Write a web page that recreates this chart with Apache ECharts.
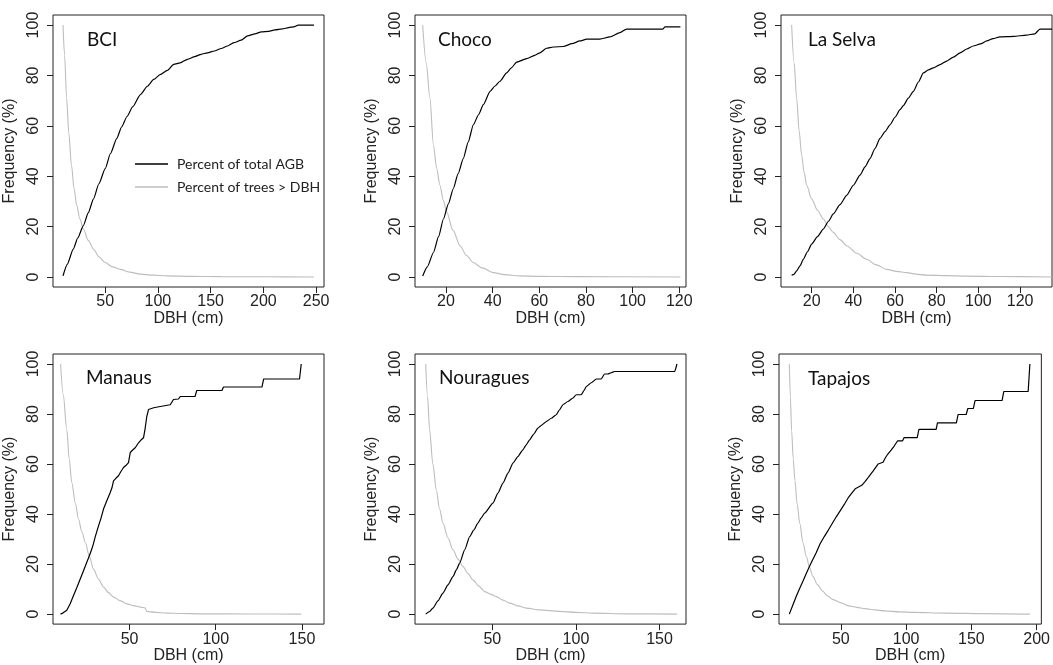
<!DOCTYPE html>
<html>
<head>
<meta charset="utf-8">
<script src="https://cdn.jsdelivr.net/npm/echarts@6/dist/echarts.min.js"></script>
<style>
  html, body { margin: 0; padding: 0; background: #fff; }
  #chart { width: 1053px; height: 665px; }
</style>
</head>
<body>
<div id="chart"></div>
<script>
// site names and tick labels
const sites = ['BCI', 'Choco', 'La Selva', 'Manaus', 'Nouragues', 'Tapajos'];
const yTicks = [0, 20, 40, 60, 80, 100];
const xTicks = [
  [50, 100, 150, 200, 250],
  [20, 40, 60, 80, 100, 120],
  [20, 40, 60, 80, 100, 120],
  [50, 100, 150],
  [50, 100, 150],
  [50, 100, 150, 200]
];

// [DBH, percent of total AGB] and [DBH, percent of trees > DBH]
const bciAgb = [[10,0.4],[14,5],[19.7,11],[24,15.5],[29.3,20.4],[34,25.5],[38.9,31],[44,37],[50,43],[55,49],[61,55],[65.5,59.5],[70.7,63.7],[76,67.5],[83.4,72.4],[90,75.7],[96,78.4],[102,80.3],[109,82],[115,84.4],[121,85],[128,86.4],[135,87.5],[141,88.4],[147,89],[153.5,89.7],[160,90.7],[166,91.7],[172,93],[179,94],[185,95.7],[192,96.5],[198,97.3],[205,97.5],[211,98.1],[218,98.5],[224,99],[229,99.3],[233,100],[248,100]];
const bciTrees = [[10,100],[11.5,88],[13.4,71],[15.5,57],[18,44.4],[20.5,35],[23,28.4],[26,23],[29.3,19],[34,14.5],[39,11],[44,8],[50,5.7],[57,4],[64.3,3],[73,1.9],[83.4,1.1],[95,0.7],[109,0.4],[130,0.2],[160,0.1],[200,0.05],[248,0]];

const chocoAgb = [[10,0.4],[12,4],[14.6,9.7],[16.8,16],[18.9,23],[21,29],[23.1,35],[25.2,41],[27.4,47],[29.5,53.5],[31.7,60.4],[34,64.5],[36,68.4],[38.9,73.7],[41,75.8],[43.1,77.7],[46,81],[48,83],[50.3,85.3],[54.6,86.7],[58,88],[60.3,89],[63.1,90.8],[66,91.3],[70.3,91.5],[74,92.6],[77.4,93.7],[80.3,94.4],[86,94.4],[90.3,95.3],[94.6,97],[97.4,98.4],[113,98.4],[113.9,99.3],[120.5,99.3]];
const chocoTrees = [[10,100],[11.5,85],[13.1,71],[14.6,52.4],[16,43],[17.4,36.4],[18.8,30.5],[20.3,25.7],[23,18.5],[26,12.4],[28.8,8.5],[31.7,5.7],[35.5,3.6],[40.3,1.7],[45,0.9],[51.7,0.4],[60,0.2],[75,0.1],[120.5,0]];

const laSelvaAgb = [[10.4,0.7],[11.5,1],[12.8,2.4],[14.5,4.5],[16,7],[18,10],[20,13],[22.8,16],[25.6,19],[28,22],[30.4,25],[33.6,28.7],[36.8,32.4],[40,36.4],[43.2,40.4],[45.6,43.7],[48,47],[50.4,51],[52.8,55],[55.2,57.7],[57.6,60.4],[60,63.4],[62.4,66.4],[64,68],[66.4,71],[68.8,73.7],[71.2,77.4],[73.6,81],[76,82.2],[78.4,83],[81.6,84.3],[84.8,85.7],[88,87.3],[91.2,89],[94.4,90.5],[97.5,91.7],[101,92.5],[104,93.7],[107,94.6],[110.3,95.3],[117,95.5],[123,96],[127,96.5],[129.5,98.4],[135.3,98.4]];
const laSelvaTrees = [[10.4,100],[11.6,85],[12.8,71],[14,58],[15.2,48.4],[16.4,41.5],[17.6,36.4],[20,31],[22.8,26.5],[25.6,23],[28,20],[30.4,17.7],[33.6,14.8],[36.8,12.4],[41.6,9.4],[46.4,7],[51,4.8],[56,3],[60.8,2.2],[65.6,1.7],[70,1.1],[75,0.7],[85,0.5],[94,0.3],[110,0.15],[135.3,0]];

const manausAgb = [[10,0],[11.5,0.5],[13.6,1.5],[15.5,4],[17.5,7.4],[19.5,10.7],[21.4,14],[23.3,17.3],[25.2,20.7],[26.7,23.3],[28.1,26],[29,28],[30,30.7],[31,33],[32,35.3],[33.5,38.5],[34.9,42],[36.8,45.3],[38.8,48.6],[39.8,50.5],[40.7,53.3],[42.2,54.4],[43.6,55.3],[45,57],[46.5,58.6],[48,59.5],[49.4,60.6],[50.4,64.6],[51.8,65.6],[53.3,66.5],[55.2,68.5],[56.5,69.5],[58.1,70.5],[59,74],[60,79],[61,81.8],[64,82.5],[67.8,83],[73.6,83.7],[75.5,85.8],[78.4,86],[79.4,87],[88,87],[89,89.4],[103.6,89.4],[104.5,90.8],[126.8,90.8],[127.8,94],[148.6,94],[149.6,100]];
const manausTrees = [[10,100],[11.5,88],[13.6,73.8],[15,62],[16.5,52.6],[18.5,44.5],[20.4,38],[22.3,33],[24.3,28.7],[26.7,23],[29.1,18],[32,14],[34.9,10.8],[37.8,8.6],[40.7,6.8],[44.6,5.4],[48.5,4.1],[52.4,3.4],[56.2,2.8],[59,2.5],[60,1.1],[65,0.7],[71.7,0.4],[80,0.25],[91,0.1],[120,0.05],[149.6,0]];

const nouraguesAgb = [[10.2,0],[12.4,1],[14.5,2.4],[17.5,5.3],[20.5,8.4],[23.5,11.7],[26.5,15],[28.5,17.7],[30.5,20.4],[33.5,25.7],[36.5,31],[39,33.7],[41.4,36.4],[43.4,38.5],[45.4,40.4],[50.4,44.4],[53.4,48.4],[56.4,52.4],[59.4,56.4],[62.4,60.4],[65.3,63],[68.3,65.7],[70.3,67.7],[72.3,69.7],[74.8,72],[77.3,74.4],[79.8,75.7],[82.3,77],[85.3,78.3],[88.2,79.7],[90.2,81.7],[92.2,83.7],[95.2,85],[98.2,86.4],[100.2,87.7],[103.2,87.7],[104.7,89.3],[106.2,91],[109.2,92.5],[112.2,94],[115.1,94],[117.1,96],[119.1,96],[121,96.5],[123.1,97],[159,97],[160.4,100]];
const nouraguesTrees = [[10.2,100],[11.3,87],[12.5,73.7],[14.5,60],[16.5,49.7],[18.5,42],[20.5,36.4],[23.5,30.5],[26.5,25.7],[29.5,22],[32.5,19],[35.5,16.2],[38.4,13.7],[42,11.2],[45.4,9],[48.9,8],[52.4,7],[56.4,5.6],[60.4,4.4],[65.3,3.3],[70.3,2.4],[78.3,1.7],[90.2,1.1],[100,0.7],[110.2,0.4],[130,0.1],[160.4,0]];

const tapajosAgb = [[10.5,0],[13,3.3],[16,7.3],[18.5,10.3],[21,13.2],[23.5,16.2],[26,19.1],[28.5,21.8],[31,24.4],[34,28],[37.3,31],[40.4,33.6],[43.5,36.3],[46.6,39],[49.8,41.6],[53,44.2],[56,46.8],[58.5,48.5],[61,50.1],[63.5,50.8],[66,51.5],[68.5,53],[71,54.7],[74.8,57.3],[78.5,60],[82.3,60.7],[84,62.4],[86,64],[88.5,65.6],[91,67.3],[93.5,69.3],[97.3,69.3],[98.5,70.6],[108.5,70.6],[109.8,73.9],[123,73.9],[124,76.5],[138.5,76.5],[139.8,79.8],[146,79.8],[147.3,82.2],[151.5,82.2],[152.8,85.4],[173.5,85.4],[174.8,89],[193.5,89],[194.8,100]];
const tapajosTrees = [[10.5,100],[11.3,87],[12.3,73.2],[13.5,62],[14.8,53.4],[16.5,44],[18.5,36.3],[21,28.5],[23.5,23.1],[26,18.7],[28.5,15.2],[32,11.8],[36,9.2],[40,7.2],[43.5,5.9],[50,4.5],[56,3.3],[62,2.7],[68.5,2.2],[76,1.7],[83.5,1.3],[95,0.9],[106,0.7],[130,0.4],[160,0.2],[194.8,0]];

const agbData = [bciAgb, chocoAgb, laSelvaAgb, manausAgb, nouraguesAgb, tapajosAgb];
const treeData = [bciTrees, chocoTrees, laSelvaTrees, manausTrees, nouraguesTrees, tapajosTrees];
const agbName = 'Percent of total AGB';
const treeName = 'Percent of trees > DBH';

// panel layout (pixels) and axis ranges
const panels = [
  { left: 53,  top: 15,  width: 271, height: 272, xMin: 0.5, xMax: 257.5, smooth: true },
  { left: 415, top: 15,  width: 271, height: 272, xMin: 6.7, xMax: 122.9, smooth: true },
  { left: 781, top: 15,  width: 271, height: 272, xMin: 5.3, xMax: 135.3, smooth: true },
  { left: 53,  top: 354, width: 271, height: 271, xMin: 5.6, xMax: 162.8, smooth: false },
  { left: 415, top: 354, width: 271, height: 271, xMin: 3.8, xMax: 165.8, smooth: true },
  { left: 779, top: 354, width: 268, height: 271, xMin: 2.6, xMax: 203.6, smooth: false }
];
const titlePos = [[87, 40], [438, 40], [808, 40], [86, 378], [439, 378], [808, 379]];

const axisFont = 'Liberation Sans, Arial, sans-serif';
const boxColor = '#222';

const chart = echarts.init(document.getElementById('chart'));

const grid = [], xAxis = [], yAxis = [], series = [], graphic = [];
panels.forEach((p, i) => {
  grid.push({
    left: p.left, top: p.top, width: p.width, height: p.height,
    show: true, borderColor: boxColor, borderWidth: 1, backgroundColor: 'transparent'
  });
  xAxis.push({
    type: 'value', gridIndex: i, min: p.xMin, max: p.xMax,
    name: 'DBH (cm)', nameLocation: 'middle', nameGap: 23,
    nameTextStyle: { fontFamily: axisFont, fontSize: 16, color: boxColor },
    axisLine: { show: false, onZero: false },
    axisTick: { show: true, length: 6, customValues: xTicks[i], lineStyle: { color: boxColor } },
    axisLabel: { customValues: xTicks[i], margin: 7, fontFamily: axisFont, fontSize: 16, color: boxColor },
    splitLine: { show: false }
  });
  yAxis.push({
    type: 'value', gridIndex: i, min: -4, max: 104,
    name: 'Frequency (%)', nameLocation: 'middle', nameGap: 35, nameRotate: 90,
    nameTextStyle: { fontFamily: axisFont, fontSize: 16, color: boxColor },
    axisLine: { show: false, onZero: false },
    axisTick: { show: true, length: 6, customValues: yTicks, lineStyle: { color: boxColor } },
    axisLabel: { customValues: yTicks, rotate: 90, margin: 11, fontFamily: axisFont, fontSize: 16, color: boxColor },
    splitLine: { show: false }
  });
  series.push({
    name: treeName, type: 'line', xAxisIndex: i, yAxisIndex: i,
    data: treeData[i], symbol: 'none', smooth: 0.3, smoothMonotone: 'x',
    color: '#bdbdbd', lineStyle: { color: '#bdbdbd', width: 1.1 }
  });
  series.push({
    name: agbName, type: 'line', xAxisIndex: i, yAxisIndex: i,
    data: agbData[i], symbol: 'none', smooth: p.smooth ? 0.2 : false, smoothMonotone: 'x',
    color: '#000', lineStyle: { color: '#000', width: 1.2 }
  });
  graphic.push({
    type: 'text', x: titlePos[i][0], y: titlePos[i][1],
    style: { text: sites[i], font: '19px Lato, sans-serif', fill: '#111', verticalAlign: 'middle' }
  });
});

chart.setOption({
  animation: false,
  backgroundColor: '#fff',
  grid, xAxis, yAxis, series, graphic,
  legend: {
    data: [agbName, treeName],
    orient: 'vertical', left: 130, top: 151,
    icon: 'rect', itemWidth: 33, itemHeight: 1.3, itemGap: 7,
    selectedMode: false,
    textStyle: { fontFamily: 'Lato, sans-serif', fontSize: 14, color: '#222', padding: [0, 0, 0, 4], lineHeight: 16 }
  }
});
</script>
</body>
</html>
